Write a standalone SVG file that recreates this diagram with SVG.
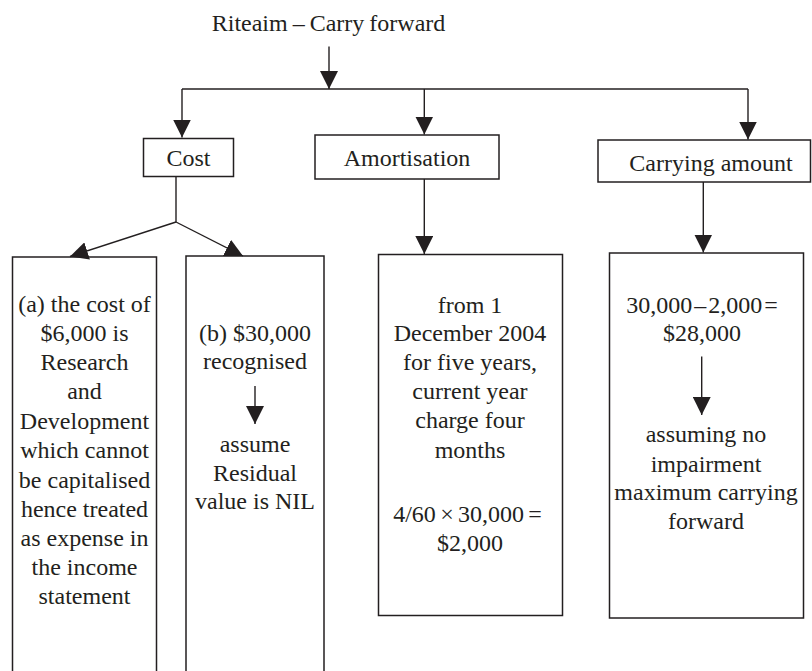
<svg xmlns="http://www.w3.org/2000/svg" width="812" height="671" viewBox="0 0 812 671">
  <defs>
    <marker id="arrow" markerUnits="userSpaceOnUse" markerWidth="18" markerHeight="18" refX="18" refY="9" orient="auto">
      <path d="M0,0 L18,9 L0,18 z" fill="#231f20"/>
    </marker>
    <style>
      text { font-family: "Liberation Serif", "Times New Roman", serif; font-size: 24px; fill: #231f20; text-anchor: middle; }
      .box { fill: none; stroke: #231f20; stroke-width: 1.5; }
      .conn { fill: none; stroke: #231f20; stroke-width: 1.4; }
      .arr { marker-end: url(#arrow); }
    </style>
  </defs>
  <rect width="812" height="671" fill="#ffffff"/>

  <!-- title -->
  <g id="title">
    <text x="328.5" y="31" style="word-spacing:-1px">Riteaim – Carry forward</text>
  </g>

  <!-- level 1 nodes -->
  <g id="cost">
    <rect class="box" x="143.5" y="138.5" width="90" height="38"/>
    <text x="188.5" y="166">Cost</text>
  </g>
  <g id="amortisation">
    <rect class="box" x="315" y="135" width="184" height="44"/>
    <text x="407" y="165.5">Amortisation</text>
  </g>
  <g id="carrying">
    <rect class="box" x="598" y="140" width="212.5" height="42"/>
    <text x="711" y="170.5">Carrying amount</text>
  </g>

  <!-- level 2 nodes -->
  <g id="cost-a">
    <path class="box" d="M12.5,680 V257 H156.5 V680"/>
    <text x="84.5" y="311.7">(a) the cost of</text>
    <text x="84.5" y="340.9">$6,000 is</text>
    <text x="84.5" y="370.1">Research</text>
    <text x="84.5" y="399.3">and</text>
    <text x="84.5" y="428.5">Development</text>
    <text x="84.5" y="458">which cannot</text>
    <text x="84.5" y="487.5">be capitalised</text>
    <text x="84.5" y="516.5">hence treated</text>
    <text x="84.5" y="545.7">as expense in</text>
    <text x="84.5" y="575">the income</text>
    <text x="84.5" y="603.5">statement</text>
  </g>
  <g id="cost-b">
    <path class="box" d="M186,680 V256 H324 V680"/>
    <text x="255" y="340.7">(b) $30,000</text>
    <text x="255" y="369">recognised</text>
    <text x="255" y="451.7">assume</text>
    <text x="255" y="480.5">Residual</text>
    <text x="255" y="508.5">value is NIL</text>
  </g>
  <g id="amortisation-detail">
    <rect class="box" x="378.5" y="254.5" width="184" height="361"/>
    <text x="470" y="312.7">from 1</text>
    <text x="470" y="341">December 2004</text>
    <text x="470" y="370">for five years,</text>
    <text x="470" y="399.3">current year</text>
    <text x="470" y="428.3">charge four</text>
    <text x="470" y="458">months</text>
    <text x="467.5" y="521.7" style="word-spacing:-1.7px">4/60 × 30,000 =</text>
    <text x="470" y="551">$2,000</text>
  </g>
  <g id="carrying-detail">
    <rect class="box" x="609.5" y="253" width="194" height="365"/>
    <text x="702" y="312.7" style="word-spacing:-4px">30,000 – 2,000 =</text>
    <text x="702" y="340.5">$28,000</text>
    <text x="706" y="441.7">assuming no</text>
    <text x="706" y="471.7">impairment</text>
    <text x="706" y="500.3">maximum carrying</text>
    <text x="706" y="529.3">forward</text>
  </g>

  <!-- connectors -->
  <g id="connectors">
    <line class="conn arr" x1="329" y1="46.5" x2="329" y2="89"/>
    <path class="conn" d="M182,89 H748"/>
    <line class="conn arr" x1="182" y1="89" x2="182" y2="137.5"/>
    <line class="conn arr" x1="424.3" y1="89" x2="424.3" y2="134.5"/>
    <line class="conn arr" x1="748" y1="89" x2="748" y2="139.5"/>
    <path class="conn" d="M176,177 V222"/>
    <line class="conn arr" x1="176" y1="222" x2="70" y2="256.5"/>
    <line class="conn arr" x1="176" y1="222" x2="243" y2="256"/>
    <line class="conn arr" x1="424.3" y1="179" x2="424.3" y2="254"/>
    <line class="conn arr" x1="703.3" y1="182" x2="703.3" y2="252.5"/>
    <line class="conn arr" x1="255" y1="386" x2="255" y2="424"/>
    <line class="conn arr" x1="701.7" y1="356.5" x2="701.7" y2="415"/>
  </g>
</svg>
